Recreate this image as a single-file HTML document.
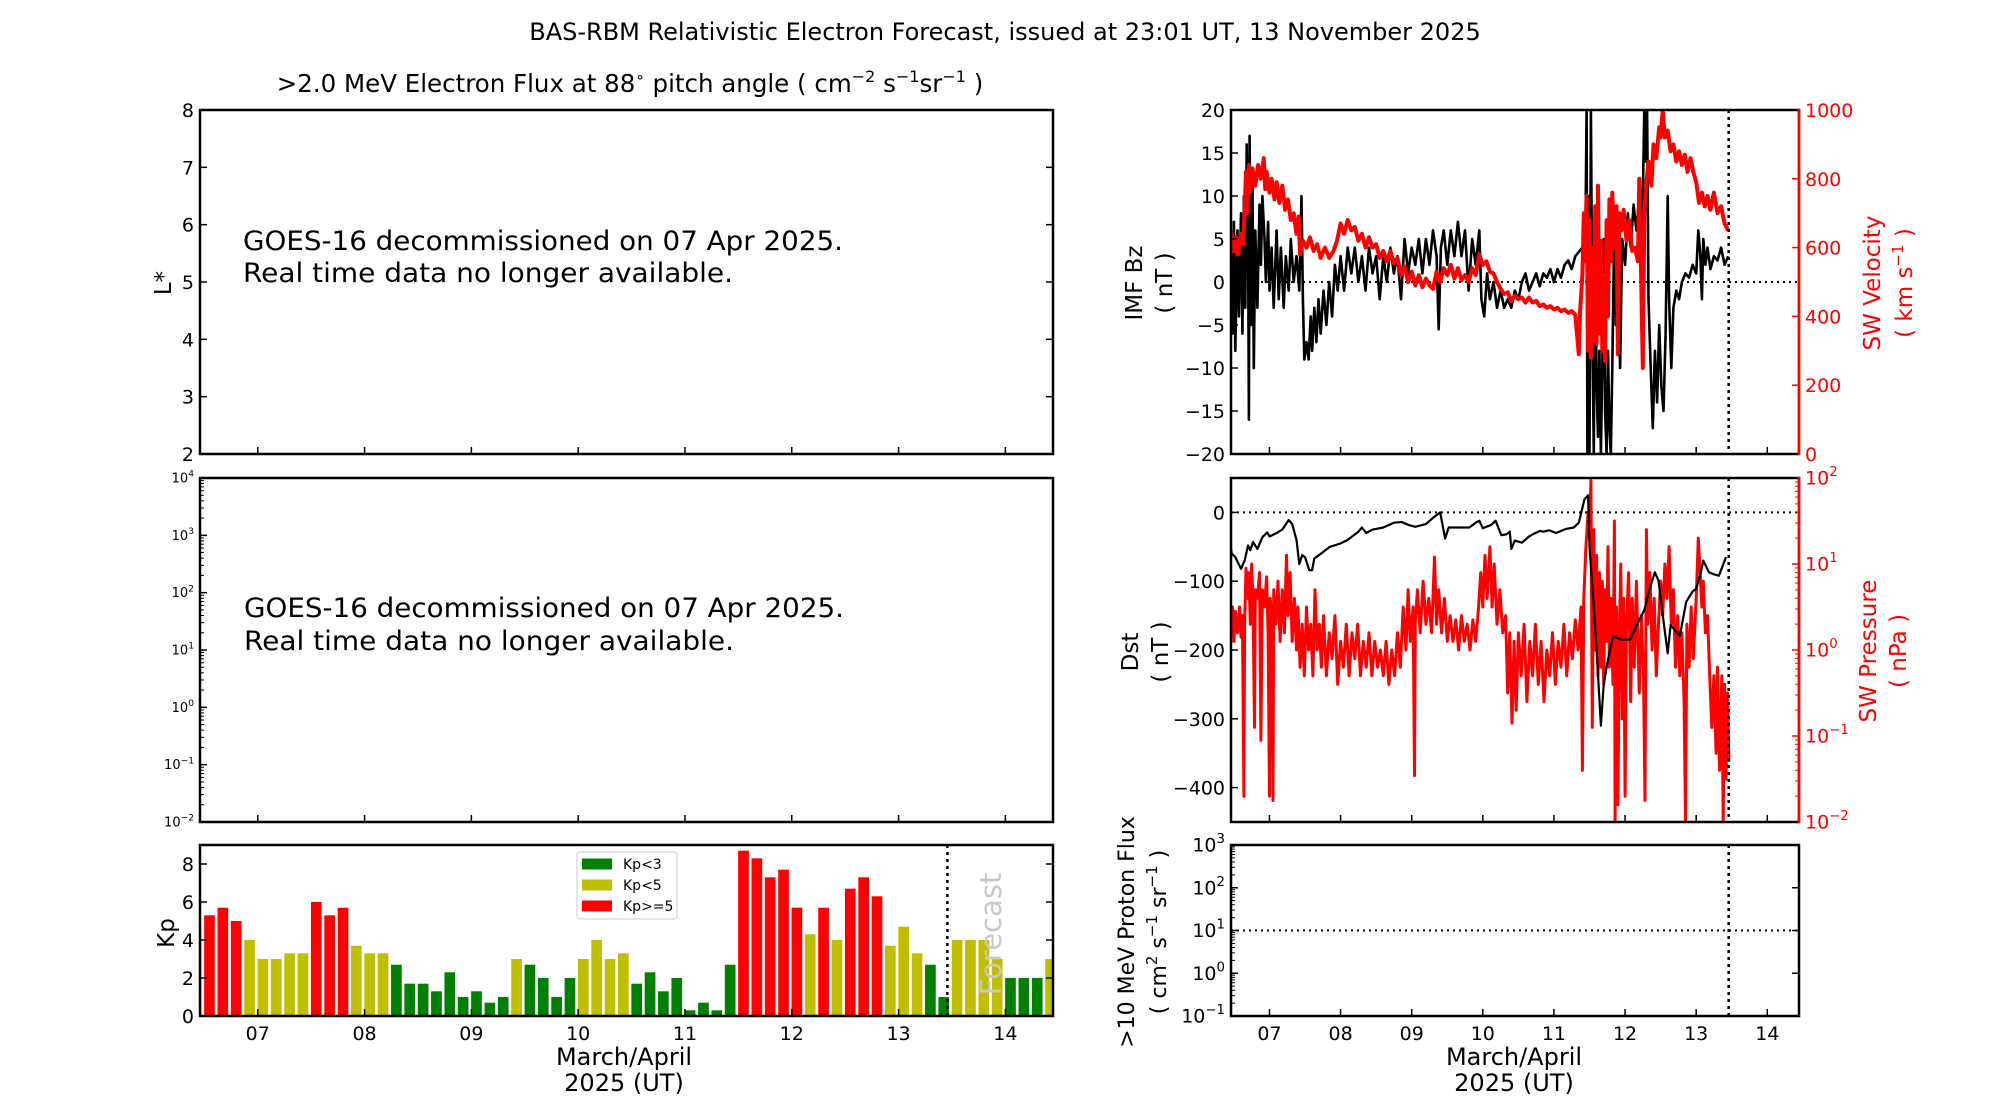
<!DOCTYPE html>
<html><head><meta charset="utf-8"><title>BAS-RBM Relativistic Electron Forecast</title>
<style>
html,body{margin:0;padding:0;background:#fff;}
svg{display:block;font-family:"DejaVu Sans","Liberation Sans",sans-serif;}
</style></head>
<body>
<svg id="chart" width="2000" height="1100" viewBox="0 0 2000 1100" xmlns="http://www.w3.org/2000/svg">
<defs>
<clipPath id="clipL1"><rect x="200" y="110" width="853" height="344"/></clipPath>
<clipPath id="clipKp"><rect x="200" y="845" width="853" height="171"/></clipPath>
<clipPath id="clipR1"><rect x="1231" y="110" width="568" height="344"/></clipPath>
<clipPath id="clipR2"><rect x="1231" y="478" width="568" height="344"/></clipPath>
</defs>
<text x="1005" y="40" font-size="24" text-anchor="middle">BAS-RBM Relativistic Electron Forecast, issued at 23:01 UT, 13 November 2025</text>
<text x="630" y="92" font-size="24.5" text-anchor="middle">&gt;2.0 MeV Electron Flux at 88<tspan dy="-10" font-size="15">∘</tspan><tspan dy="10"> pitch angle ( cm</tspan><tspan dy="-10" font-size="16">−2</tspan><tspan dy="10"> s</tspan><tspan dy="-10" font-size="16">−1</tspan><tspan dy="10">sr</tspan><tspan dy="-10" font-size="16">−1</tspan><tspan dy="10"> )</tspan></text>

<text x="243" y="250" font-size="27" textLength="600" lengthAdjust="spacingAndGlyphs">GOES-16 decommissioned on 07 Apr 2025.</text>
<text x="243" y="282" font-size="27" textLength="490" lengthAdjust="spacingAndGlyphs">Real time data no longer available.</text>
<text x="244" y="617" font-size="27" textLength="600" lengthAdjust="spacingAndGlyphs">GOES-16 decommissioned on 07 Apr 2025.</text>
<text x="244" y="650" font-size="27" textLength="490" lengthAdjust="spacingAndGlyphs">Real time data no longer available.</text>

<text transform="translate(171,283) rotate(-90)" font-size="23" text-anchor="middle">L*</text>
<text transform="translate(174,933) rotate(-90)" font-size="23" text-anchor="middle">Kp</text>

<text transform="translate(1142,283) rotate(-90)" font-size="23" text-anchor="middle">IMF Bz</text>
<text transform="translate(1172,283) rotate(-90)" font-size="23" text-anchor="middle">( nT )</text>
<text transform="translate(1138,652) rotate(-90)" font-size="23" text-anchor="middle">Dst</text>
<text transform="translate(1168,652) rotate(-90)" font-size="23" text-anchor="middle">( nT )</text>
<text transform="translate(1134,932) rotate(-90)" font-size="22" text-anchor="middle">&gt;10 MeV Proton Flux</text>
<text transform="translate(1166,932) rotate(-90)" font-size="22" text-anchor="middle">( cm<tspan dy="-9" font-size="15">2</tspan><tspan dy="9"> s</tspan><tspan dy="-9" font-size="15">−1</tspan><tspan dy="9"> sr</tspan><tspan dy="-9" font-size="15">−1</tspan><tspan dy="9"> )</tspan></text>

<text transform="translate(1880,283) rotate(-90)" font-size="23" fill="#ff0000" text-anchor="middle">SW Velocity</text>
<text transform="translate(1912,283) rotate(-90)" font-size="23" fill="#ff0000" text-anchor="middle">( km s<tspan dy="-9" font-size="15">−1</tspan><tspan dy="9"> )</tspan></text>
<text transform="translate(1876,651) rotate(-90)" font-size="23" fill="#ff0000" text-anchor="middle">SW Pressure</text>
<text transform="translate(1906,651) rotate(-90)" font-size="23" fill="#ff0000" text-anchor="middle">( nPa )</text>

<text x="624" y="1065" font-size="24" text-anchor="middle">March/April</text>
<text x="624" y="1091" font-size="24" text-anchor="middle">2025 (UT)</text>
<text x="1514" y="1065" font-size="24" text-anchor="middle">March/April</text>
<text x="1514" y="1091" font-size="24" text-anchor="middle">2025 (UT)</text>
</svg>

<script>
// ---------------- data ----------------
const dayTicks = [7,8,9,10,11,12,13,14];
const dayLabels = ["07","08","09","10","11","12","13","14"];
const forecastDay = 13.457;

// Kp (3-hourly), first bar partially cut by axis
const kpFirstCenter = 6.423;
const kpValues = [4.3, 5.3,5.7,5.0,4,3,3,3.3,3.3, 6,5.3,5.7,3.7,3.3,3.3,
  2.7,1.7,1.7,1.3,2.3,1,1.3,0.7,1, 3,2.7,2,1,2, 3,4,3,3.3,
  1.7,2.3,1.3,2,0.3,0.7,0.3,2.7, 8.7,8.3,7.3,7.7,5.7,
  4.3,5.7,4,6.7,7.3,6.3, 3.7,4.7,3.3,2.7,1, 4,4,4,3,2,2,2,3];
const lstarTicks = [2,3,4,5,6,7,8];
const kpTicks = [0,2,4,6,8];
const bzTicks = [-20,-15,-10,-5,0,5,10,15,20];
const velTicks = [0,200,400,600,800,1000];
const dstTicks = [-400,-300,-200,-100,0];
const presExp = [-2,-1,0,1,2];
const fluxExp = [-2,-1,0,1,2,3,4];
const protonExp = [-1,0,1,2,3];

const bzTime = [6.44,6.46,6.48,6.5,6.52,6.55,6.57,6.6,6.62,6.64,6.66,6.68,6.7,6.71,6.72,6.74,6.76,6.78,6.8,6.83,6.86,6.88,6.9,6.93,6.95,6.98,7.0,7.03,7.06,7.1,7.13,7.16,7.2,7.23,7.27,7.3,7.34,7.38,7.42,7.45,7.47,7.49,7.52,7.55,7.58,7.6,7.63,7.66,7.69,7.72,7.76,7.8,7.84,7.88,7.92,7.96,8.0,8.05,8.1,8.15,8.2,8.25,8.3,8.35,8.4,8.45,8.5,8.55,8.6,8.65,8.7,8.75,8.8,8.85,8.9,8.95,9.0,9.05,9.1,9.15,9.2,9.25,9.3,9.35,9.38,9.41,9.45,9.5,9.55,9.6,9.65,9.7,9.75,9.8,9.85,9.9,9.95,9.98,10.02,10.06,10.1,10.15,10.2,10.25,10.3,10.35,10.4,10.45,10.5,10.55,10.6,10.65,10.7,10.75,10.8,10.85,10.9,10.95,11.0,11.05,11.1,11.15,11.2,11.25,11.3,11.35,11.4,11.44,11.46,11.47,11.49,11.5,11.52,11.54,11.56,11.58,11.6,11.62,11.64,11.66,11.68,11.7,11.72,11.74,11.76,11.78,11.8,11.82,11.85,11.87,11.9,11.93,11.96,12.0,12.04,12.08,12.12,12.16,12.2,12.24,12.27,12.29,12.31,12.33,12.36,12.39,12.42,12.45,12.48,12.51,12.54,12.57,12.6,12.62,12.65,12.68,12.72,12.76,12.8,12.85,12.9,12.95,13.0,13.03,13.06,13.08,13.1,13.13,13.16,13.2,13.25,13.3,13.35,13.4,13.45];
const bzValues = [-8,3,-6,7,-8,6,-4,8,-6,10,-3,16,5,-16,17,-5,13,-10,6,-3,9,2,10,5,0,7,-1,4,-3,6,-2,4,-3,3,-1,5,0,3,-1,10,-2,-9,-7,-9,-4,-8,-3,-7,-2,-6,-1,-5,0,-4,2,-1,3,-1,4,1,4,0,3,-1,4,1,3,-2,3,0,4,1,3,-2,5,1,4,2,5,1,5,2,6,3,-5.5,4,6,2,6,3,7,3,6,-1,5,2,6,-2,-4,1,-2,0,-3,-1,-3,-2,-3,-1,-2,0,1,-1,0,1,-0.5,1,0.5,1.5,0,1.5,0.5,2,2.5,1.5,3,3.5,4,3,20,-20,10,-20,20,-5,-20,8,-12,-18,-8,-20,-10,5,-15,-20,-8,-17,-20,-10,8,-5,3,-10,5,2,8,4,9,6,10,5,20,14,20,-2,-10,-17,-8,-14,-5,-12,-15,-6,10,-2,-10,-3,-1,-2,0,1,0.5,2,1,6,3,-2,5,2,4,1.5,3,2.5,4,2,3];

const velTime = [6.44,6.47,6.5,6.53,6.56,6.6,6.63,6.65,6.67,6.69,6.71,6.73,6.76,6.8,6.84,6.88,6.92,6.94,6.96,7.0,7.03,7.07,7.1,7.14,7.18,7.22,7.26,7.3,7.34,7.38,7.41,7.43,7.47,7.52,7.57,7.62,7.67,7.72,7.78,7.84,7.9,7.95,8.0,8.05,8.1,8.15,8.2,8.25,8.3,8.35,8.4,8.45,8.5,8.55,8.6,8.65,8.7,8.75,8.8,8.85,8.9,8.95,9.0,9.05,9.1,9.15,9.2,9.25,9.3,9.35,9.4,9.45,9.5,9.55,9.6,9.65,9.7,9.75,9.8,9.85,9.9,9.95,10.0,10.05,10.1,10.15,10.2,10.25,10.3,10.35,10.4,10.45,10.5,10.55,10.6,10.65,10.7,10.75,10.8,10.85,10.9,10.95,11.0,11.05,11.1,11.15,11.2,11.25,11.3,11.35,11.37,11.4,11.42,11.44,11.46,11.48,11.5,11.52,11.54,11.56,11.58,11.6,11.62,11.64,11.66,11.68,11.7,11.72,11.74,11.76,11.78,11.8,11.82,11.85,11.88,11.9,11.92,11.95,11.98,12.02,12.06,12.1,12.14,12.18,12.2,12.22,12.25,12.27,12.3,12.33,12.37,12.4,12.44,12.48,12.5,12.53,12.56,12.6,12.64,12.68,12.72,12.76,12.8,12.84,12.88,12.92,12.96,13.0,13.04,13.08,13.12,13.16,13.2,13.25,13.3,13.35,13.4,13.45];
const velValues = [560,640,590,630,580,640,610,700,820,700,840,760,830,780,840,800,860,770,820,760,800,740,790,730,780,710,740,680,700,640,690,580,620,600,630,590,610,570,600,570,590,620,670,640,680,650,660,620,640,600,630,600,610,570,590,560,590,555,570,520,545,500,530,490,520,485,510,490,480,530,500,540,520,550,510,540,505,520,500,540,520,580,550,560,530,525,500,480,465,470,445,460,450,455,440,455,440,445,430,435,425,430,420,425,415,420,410,415,405,290,420,520,700,560,750,300,680,280,600,330,720,320,780,350,620,300,520,270,680,400,740,560,760,600,720,290,700,650,710,620,680,590,600,560,800,590,250,700,790,850,780,900,860,950,920,1000,920,940,880,900,850,880,840,870,820,860,820,790,730,760,720,750,710,760,700,720,670,650];

const dstTime = [6.44,6.47,6.52,6.6,6.65,6.7,6.73,6.77,6.83,6.9,6.97,7.0,7.1,7.18,7.27,7.32,7.38,7.42,7.46,7.5,7.56,7.6,7.63,7.75,7.85,8.0,8.1,8.25,8.3,8.36,8.45,8.6,8.75,8.86,8.95,9.05,9.2,9.3,9.4,9.47,9.52,9.7,9.81,9.9,9.95,10.0,10.12,10.18,10.26,10.33,10.38,10.4,10.45,10.55,10.65,10.7,10.8,10.85,10.93,11.03,11.17,11.28,11.35,11.43,11.48,11.5,11.55,11.6,11.66,11.7,11.75,11.83,11.95,12.07,12.2,12.27,12.35,12.42,12.47,12.55,12.6,12.64,12.7,12.77,12.86,12.95,13.0,13.06,13.1,13.18,13.25,13.32,13.42];
const dstValues = [-41,-60,-65,-82,-70,-48,-55,-43,-53,-36,-29,-35,-30,-25,-11,-17,-40,-75,-62,-65,-84,-84,-67,-58,-50,-45,-40,-28,-22,-30,-25,-22,-15,-14,-18,-21,-17,-8,0,-38,-22,-22,-22,-15,-12,-23,-18,-12,-33,-32,-28,-53,-41,-44,-35,-32,-27,-28,-26,-30,-24,-22,-15,19,25,-50,-120,-200,-310,-250,-219,-180,-185,-185,-156,-142,-110,-87,-99,-166,-205,-164,-171,-180,-130,-115,-111,-90,-70,-87,-90,-92,-65];

// SW pressure as log10(nPa)
const presTime = [6.44,6.46,6.48,6.5,6.52,6.55,6.58,6.6,6.62,6.64,6.65,6.67,6.69,6.71,6.73,6.75,6.77,6.79,6.8,6.83,6.86,6.88,6.9,6.93,6.96,6.98,7.0,7.01,7.03,7.05,7.06,7.09,7.12,7.15,7.18,7.21,7.24,7.26,7.29,7.32,7.35,7.38,7.4,7.43,7.46,7.49,7.52,7.55,7.58,7.61,7.64,7.67,7.7,7.73,7.76,7.8,7.84,7.88,7.92,7.96,8.0,8.04,8.08,8.12,8.16,8.2,8.24,8.28,8.32,8.36,8.4,8.44,8.48,8.52,8.56,8.6,8.64,8.68,8.72,8.76,8.8,8.84,8.88,8.92,8.95,8.98,9.02,9.04,9.05,9.08,9.12,9.16,9.2,9.24,9.28,9.32,9.35,9.38,9.42,9.46,9.5,9.54,9.58,9.62,9.66,9.7,9.74,9.78,9.82,9.86,9.9,9.94,9.97,10.0,10.03,10.06,10.1,10.13,10.16,10.2,10.24,10.28,10.32,10.35,10.38,10.41,10.44,10.47,10.5,10.54,10.58,10.62,10.66,10.7,10.74,10.78,10.82,10.86,10.9,10.94,10.98,11.02,11.06,11.1,11.14,11.18,11.22,11.26,11.3,11.34,11.38,11.4,11.42,11.45,11.48,11.5,11.52,11.54,11.56,11.58,11.6,11.62,11.64,11.66,11.68,11.7,11.72,11.74,11.76,11.78,11.8,11.83,11.85,11.86,11.88,11.9,11.92,11.94,11.96,11.98,12.0,12.02,12.05,12.08,12.1,12.13,12.16,12.2,12.23,12.26,12.28,12.3,12.32,12.35,12.38,12.41,12.44,12.47,12.5,12.53,12.56,12.59,12.62,12.65,12.68,12.71,12.74,12.77,12.8,12.83,12.85,12.87,12.9,12.93,12.96,13.0,13.03,13.05,13.08,13.1,13.13,13.16,13.19,13.22,13.25,13.28,13.3,13.33,13.36,13.38,13.4,13.42,13.44,13.46];
const presLog = [0.4,0.2,0.5,0.1,0.45,0.2,0.5,0.15,0.4,-1.7,0.3,0.95,0.6,0.9,0.3,1.0,0.5,-0.9,0.7,0.6,0.9,-1.05,0.7,0.5,0.85,0.2,-1.7,0.6,0.4,-1.75,0.7,0.3,0.8,0.1,0.7,0.2,1.1,0.4,0.9,0.1,0.6,0.0,0.5,-0.2,0.3,-0.3,0.5,0.0,0.3,-0.3,0.7,0.0,0.3,-0.2,0.4,-0.3,0.2,-0.1,0.4,-0.4,0.1,-0.2,0.3,-0.3,0.2,-0.1,0.3,-0.3,0.1,-0.2,0.2,-0.3,0.1,-0.2,0.0,-0.3,0.1,-0.4,0.0,-0.3,0.2,-0.2,0.5,0.0,0.7,0.1,0.5,-1.46,0.3,0.7,0.2,0.8,0.3,0.6,0.2,1.08,0.3,0.7,0.2,0.6,0.1,0.4,0.1,0.35,0.0,0.4,0.1,0.3,0.0,0.35,0.1,0.5,0.9,0.5,1.1,0.6,1.2,0.5,1.0,0.3,0.7,0.2,0.4,-0.5,0.2,-0.85,0.1,-0.7,0.2,-0.3,0.3,-0.6,0.1,-0.3,0.3,-0.4,0.1,-0.6,0.0,-0.3,0.2,-0.4,0.1,-0.2,0.3,-0.3,0.2,-0.1,0.35,0.0,0.5,-1.4,0.6,1.2,1.6,1.3,1.97,-0.9,1.4,0.0,1.1,-0.3,0.9,-0.2,0.8,-0.4,0.7,0.1,1.2,-0.2,0.6,-0.4,1.5,-2.0,0.5,-1.8,0.2,1.0,-0.8,0.6,-1.7,0.3,0.9,-0.6,0.6,-0.2,0.8,-0.5,0.4,-0.3,-1.75,1.4,0.3,0.9,0.0,0.6,-0.3,0.3,0.8,0.4,1.0,0.6,1.2,0.3,0.7,-0.2,0.4,-0.3,0.2,-0.6,-2.0,0.3,-0.2,0.5,-0.1,0.6,1.3,1.0,0.5,0.8,0.2,0.4,-0.3,-0.9,-0.3,-1.2,-0.2,-1.4,-0.3,-2.0,-0.4,-1.5,-0.5,-1.3];

// ---------------- layout ----------------
const svg = document.getElementById('chart');
const NS = 'http://www.w3.org/2000/svg';
const D0 = 6.459, D1 = 14.446;
const PL = {x0:200, x1:1053}, PR = {x0:1231, x1:1799};
const ROW1 = {y0:110, y1:454}, ROW2 = {y0:478, y1:822}, ROW3 = {y0:845, y1:1016};
const TICK = 7, MINOR = 4, TF = 19;

function mk(tag, attrs, parent){
  const e = document.createElementNS(NS, tag);
  for (const k in attrs) e.setAttribute(k, attrs[k]);
  (parent || svg).appendChild(e);
  return e;
}
function xs(d, p){ return p.x0 + (d - D0) / (D1 - D0) * (p.x1 - p.x0); }
function lin(v, lo, hi, r){ return r.y1 - (v - lo) / (hi - lo) * (r.y1 - r.y0); }

function drawSeries(times, vals, p, yfun, color, width, clip, name){
  let d = '';
  for (let i = 0; i < times.length; i++){
    d += (i ? 'L' : 'M') + xs(times[i], p).toFixed(1) + ',' + yfun(vals[i]).toFixed(1);
  }
  const path = mk('path', {d:d, fill:'none', stroke:color, 'stroke-width':width, 'stroke-linejoin':'round', 'clip-path':'url(#' + clip + ')'});
  
  
}
function hdots(p, y, name){
  const l = mk('line', {x1:p.x0, x2:p.x1, y1:y, y2:y, stroke:'#000', 'stroke-width':2, 'stroke-dasharray':'2,4'});
  
  
}
function vdots(p, r, name){
  const x = xs(forecastDay, p);
  const l = mk('line', {x1:x, x2:x, y1:r.y0, y2:r.y1, stroke:'#000', 'stroke-width':2.5, 'stroke-dasharray':'3,4'});
  
  
}
function xTicks(p, r, labels, name){
  dayTicks.forEach((d, i) => {
    const x = xs(d, p);
    const t = mk('line', {x1:x, x2:x, y1:r.y1, y2:r.y1 - TICK, stroke:'#000', 'stroke-width':1.5});
    
    
    if (labels){
      const tx = mk('text', {x:x, y:r.y1 + 24, 'font-size':TF, 'text-anchor':'middle'});
      tx.textContent = dayLabels[i];
      
      
    }
  });
}
function yTicksLin(p, r, ticks, lo, hi, side, color, name, both){
  ticks.forEach(v => {
    const y = lin(v, lo, hi, r);
    const x = side === 'left' ? p.x0 : p.x1;
    const dir = side === 'left' ? 1 : -1;
    const t = mk('line', {x1:x, x2:x + dir * TICK, y1:y, y2:y, stroke:color, 'stroke-width':1.5});
    
    
    if (both){
      const t2 = mk('line', {x1:p.x1, x2:p.x1 - TICK, y1:y, y2:y, stroke:color, 'stroke-width':1.5});
      
      
    }
    const tx = mk('text', {x: side === 'left' ? x - 6 : x + 6, y: y + 7, 'font-size':TF, fill:color, 'text-anchor': side === 'left' ? 'end' : 'start'});
    tx.textContent = String(v).replace('-', '\u2212');
    
    
  });
}
function yTicksLog(p, r, exps, side, color, name, fs, both){
  const lo = exps[0], hi = exps[exps.length - 1];
  const x = side === 'left' ? p.x0 : p.x1;
  const dir = side === 'left' ? 1 : -1;
  for (let e = lo; e <= hi; e++){
    const y = lin(e, lo, hi, r);
    const t = mk('line', {x1:x, x2:x + dir * TICK, y1:y, y2:y, stroke:color, 'stroke-width':1.5});
    
    
    if (both){
      const t2 = mk('line', {x1:p.x1, x2:p.x1 - TICK, y1:y, y2:y, stroke:color, 'stroke-width':1.5});
      
      
    }
    if (e < hi){
      for (let m = 2; m <= 9; m++){
        const ym = lin(e + Math.log10(m), lo, hi, r);
        const mt = mk('line', {x1:x, x2:x + dir * MINOR, y1:ym, y2:ym, stroke:color, 'stroke-width':1});
        
        
      }
    }
    const tx = mk('text', {x: side === 'left' ? x - 6 : x + 6, y: y + fs * 0.35, 'font-size':fs, fill:color, 'text-anchor': side === 'left' ? 'end' : 'start'});
    
    
    const b = document.createElementNS(NS, 'tspan'); b.textContent = '10'; tx.appendChild(b);
    const s = document.createElementNS(NS, 'tspan');
    s.setAttribute('dy', -fs * 0.45); s.setAttribute('font-size', fs * 0.7);
    s.textContent = String(e).replace('-', '\u2212');
    tx.appendChild(s);
  }
}
function frame(p, r, name, rightColor){
  const f = mk('rect', {x:p.x0, y:r.y0, width:p.x1 - p.x0, height:r.y1 - r.y0, fill:'none', stroke:'#000', 'stroke-width':2.5});
  
  
  if (rightColor){
    const rs = mk('line', {x1:p.x1, x2:p.x1, y1:r.y0 - 1, y2:r.y1 + 1, stroke:rightColor, 'stroke-width':2.5});
    
    
  }
}

// ---------- left panel 1: L* ----------
xTicks(PL, ROW1, false, 'lstar-x');
yTicksLin(PL, ROW1, lstarTicks, 2, 8, 'left', '#000', 'lstar-y', true);
frame(PL, ROW1, 'lstar-panel');

// ---------- left panel 2: flux (log) ----------
xTicks(PL, ROW2, false, 'flux-x');
yTicksLog(PL, ROW2, fluxExp, 'left', '#000', 'flux-y', 13, false);
frame(PL, ROW2, 'flux-panel');

// ---------- left panel 3: Kp bars ----------
const kpY = v => lin(v, 0, 9, ROW3);
kpValues.forEach((v, i) => {
  const c = kpFirstCenter + i * 0.125;
  const x0 = xs(c - 0.05, PL), x1 = xs(c + 0.05, PL);
  const col = v < 3 ? '#008000' : (v < 5 ? '#bfbf00' : '#ff0000');
  const b = mk('rect', {x:x0, y:kpY(v), width:x1 - x0, height:ROW3.y1 - kpY(v), fill:col, 'clip-path':'url(#clipKp)'});
  
  
});
vdots(PL, ROW3, 'kp-forecast-line');
const fc = mk('text', {transform:'translate(1001,934) rotate(-90)', 'font-size':29, fill:'#c8c8c8', 'text-anchor':'middle'});
fc.textContent = 'Forecast';


xTicks(PL, ROW3, true, 'kp-x');
yTicksLin(PL, ROW3, kpTicks, 0, 9, 'left', '#000', 'kp-y', true);
frame(PL, ROW3, 'kp-panel');
// legend
const lg = mk('g', {});


const lb = mk('rect', {x:577, y:852, width:100, height:67, rx:3, fill:'#fff', stroke:'#cccccc', 'stroke-width':1}, lg);


const legNames = ['Kp<3', 'Kp<5', 'Kp>=5'];
const legCols = ['#008000', '#bfbf00', '#ff0000'];
legNames.forEach((n, i) => {
  const yc = 864 + i * 21;
  const sw = mk('rect', {x:582, y:yc - 5.5, width:30, height:11, fill:legCols[i]}, lg);
  
  
  const t = mk('text', {x:623, y:yc + 5, 'font-size':14}, lg);
  t.textContent = n;
  
  
});

// ---------- right panel 1: IMF Bz + velocity ----------
const bzY = v => lin(v, -20, 20, ROW1);
const velY = v => lin(v, 0, 1000, ROW1);
hdots(PR, bzY(0), 'bz-zero-line');
drawSeries(bzTime, bzValues, PR, bzY, '#000', 2.6, 'clipR1', 'imf-bz-line');
drawSeries(velTime, velValues, PR, velY, '#ff0000', 4, 'clipR1', 'sw-velocity-line');
vdots(PR, ROW1, 'bz-forecast-line');
xTicks(PR, ROW1, false, 'bz-x');
yTicksLin(PR, ROW1, bzTicks, -20, 20, 'left', '#000', 'bz-y', false);
yTicksLin(PR, ROW1, velTicks, 0, 1000, 'right', '#ff0000', 'velocity-y', false);
frame(PR, ROW1, 'imf-panel', '#ff0000');

// ---------- right panel 2: Dst + pressure ----------
const dstY = v => lin(v, -450, 50, ROW2);
const presY = v => lin(v, -2, 2, ROW2);
hdots(PR, dstY(0), 'dst-zero-line');
drawSeries(presTime, presLog, PR, presY, '#ff0000', 3, 'clipR2', 'sw-pressure-line');
drawSeries(dstTime, dstValues, PR, dstY, '#000', 2.2, 'clipR2', 'dst-line');
vdots(PR, ROW2, 'dst-forecast-line');
xTicks(PR, ROW2, false, 'dst-x');
yTicksLin(PR, ROW2, dstTicks, -450, 50, 'left', '#000', 'dst-y', false);
yTicksLog(PR, ROW2, presExp, 'right', '#ff0000', 'pressure-y', 19, false);
frame(PR, ROW2, 'dst-panel', '#ff0000');

// ---------- right panel 3: proton flux ----------
const protY = v => lin(v, -1, 3, ROW3);
hdots(PR, protY(1), 'proton-threshold-line');
vdots(PR, ROW3, 'proton-forecast-line');
xTicks(PR, ROW3, true, 'proton-x');
yTicksLog(PR, ROW3, protonExp, 'left', '#000', 'proton-y', 19, true);
frame(PR, ROW3, 'proton-panel');
</script>
</body></html>
